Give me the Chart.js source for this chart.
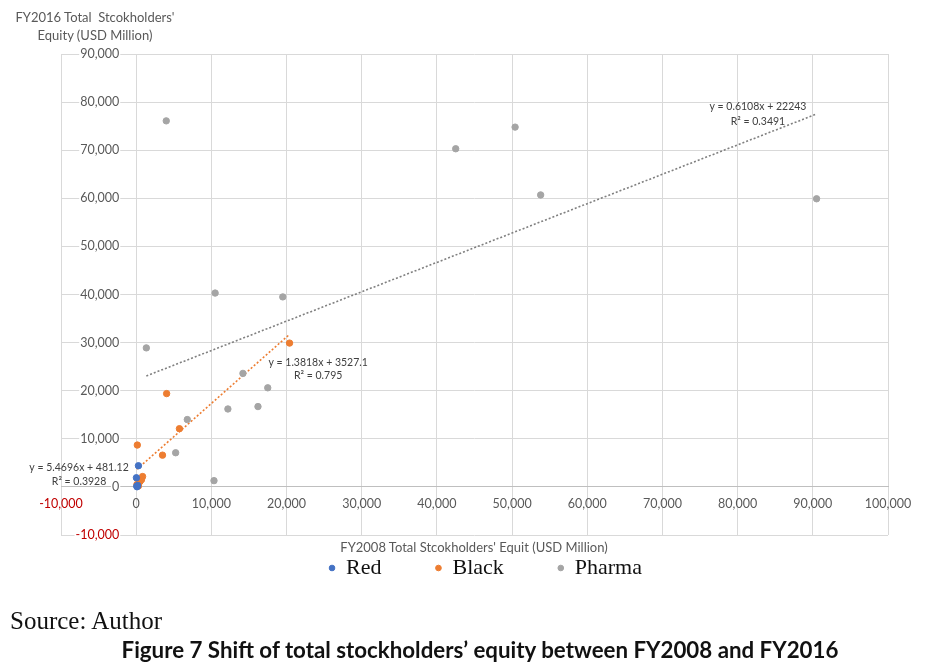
<!DOCTYPE html>
<html>
<head>
<meta charset="utf-8">
<script src="https://cdn.jsdelivr.net/npm/chart.js@4/dist/chart.umd.min.js"></script>
<style>
  html, body { margin: 0; padding: 0; background: #fff; }
  #wrap { position: relative; width: 929px; height: 672px; overflow: hidden; }
  #c { position: absolute; left: 0; top: 0; }
  .t { position: absolute; white-space: pre; }
  #ytitle { left: 95px; top: 8px; transform: translateX(-50%); text-align: center; font: 13px Lato, sans-serif; color: #595959; line-height: 18px; }
  #xtitle { left: 474px; top: 539px; transform: translateX(-50%); font: 13px Lato, sans-serif; color: #595959; }
  #source { left: 10px; top: 607px; font: 25px 'Liberation Serif', serif; color: #111; }
  #caption { left: 480px; top: 636px; transform: translateX(-50%); font: bold 22.3px Lato, sans-serif; color: #111; }
</style>
</head>
<body>
<div id="wrap">
  <canvas id="c" width="929" height="672"></canvas>
  <div class="t" id="ytitle">FY2016 Total  Stcokholders'
Equity (USD Million)</div>
  <div class="t" id="xtitle">FY2008 Total Stcokholders' Equit (USD Million)</div>
  <div class="t" id="source">Source: Author</div>
  <div class="t" id="caption">Figure 7 Shift of total stockholders’ equity between FY2008 and FY2016</div>
</div>
<script>
// ---------- data (USD million) ----------
const seriesNames = ['Red', 'Black', 'Pharma'];

const redX = [300, 30, 80, 200, 120];
const redY = [4400, 1900, 150, 300, 30];

const blackX = [20400, 4050, 5750, 150, 3500, 850, 500, 700, 100, 300];
const blackY = [29900, 19400, 12100, 8700, 6600, 2150, 1100, 1500, 500, 200];

const pharmaX = [4000, 10500, 19500, 1350, 42500, 50400, 53800, 90500, 14200, 17500, 16200, 12200, 6800, 5250, 10350];
const pharmaY = [76100, 40300, 39500, 28900, 70300, 74800, 60700, 59900, 23600, 20600, 16700, 16200, 14000, 7100, 1300];

// linear trendline end points (consistent with the shown equations)
const redTrendX = [30, 300];
const redTrendY = [645, 2122];
const blackTrendX = [100, 20400];
const blackTrendY = [3665, 31716];
const pharmaTrendX = [1350, 90500];
const pharmaTrendY = [23068, 77520];

// trendline equation labels
const redTrendText = ['y = 5.4696x + 481.12', 'R² = 0.3928'];
const blackTrendText = ['y = 1.3818x + 3527.1', 'R² = 0.795'];
const pharmaTrendText = ['y = 0.6108x + 22243', 'R² = 0.3491'];

// axis tick values
const xTickValues = [-10000, 0, 10000, 20000, 30000, 40000, 50000, 60000, 70000, 80000, 90000, 100000];
const yTickValues = [-10000, 0, 10000, 20000, 30000, 40000, 50000, 60000, 70000, 80000, 90000];

// ---------- styling ----------
const COLORS = { red: '#4472C4', black: '#ED7D31', pharma: '#A5A5A5', pharmaTrend: '#808080' };
const TICK_COLOR = '#595959';
const NEG_COLOR = '#C00000';
const GRID_COLOR = '#D9D9D9';
const FONT = 'Lato, sans-serif';

const toPts = (xs, ys) => xs.map((x, i) => ({ x: x, y: ys[i] }));
const fmt = v => Number(v).toLocaleString('en-US');

// label anchors (data coordinates of the first text line centre) and line gaps
const trendLabelPlacement = [
  { text: pharmaTrendText, x: 82700, y: 79000, gap: 15 },
  { text: blackTrendText, x: 24200, y: 25800, gap: 13 },
  { text: redTrendText, x: -7600, y: 3950, gap: 14 }
];

const trendLabelPlugin = {
  id: 'trendLabels',
  afterDatasetsDraw(chart) {
    const { ctx, scales: { x, y } } = chart;
    ctx.save();
    ctx.font = '10.5px ' + FONT;
    ctx.fillStyle = '#404040';
    ctx.textAlign = 'center';
    ctx.textBaseline = 'middle';
    trendLabelPlacement.forEach(l => {
      const px = x.getPixelForValue(l.x);
      const py = y.getPixelForValue(l.y);
      l.text.forEach((t, i) => ctx.fillText(t, px, py + i * l.gap));
    });
    ctx.restore();
  }
};

// legend spacing: keep wide horizontal gaps while sitting close under the plot
const LEGEND_PAD = 54;
const legendPlace = {
  id: 'legendPlace',
  afterLayout(chart) {
    const lg = chart.legend;
    if (!lg) return;
    const dy = -(LEGEND_PAD - 22), dx = 11;
    lg.top += dy; lg.bottom += dy; lg.left += dx; lg.right += dx;
  }
};

const scatterSet = (label, xs, ys, color) => ({
  type: 'scatter', label: label, data: toPts(xs, ys),
  backgroundColor: color, borderColor: color, borderWidth: 1,
  pointRadius: 3.2, pointHoverRadius: 3.2, order: 1
});
const trendSet = (xs, ys, color) => ({
  type: 'line', label: '_trend', data: toPts(xs, ys),
  borderColor: color, borderWidth: 1.6, borderDash: [2, 2],
  pointRadius: 0, fill: false, tension: 0, order: 2
});

new Chart(document.getElementById('c'), {
  data: {
    datasets: [
      scatterSet(seriesNames[0], redX, redY, COLORS.red),
      scatterSet(seriesNames[1], blackX, blackY, COLORS.black),
      scatterSet(seriesNames[2], pharmaX, pharmaY, COLORS.pharma),
      trendSet(redTrendX, redTrendY, COLORS.red),
      trendSet(blackTrendX, blackTrendY, COLORS.black),
      trendSet(pharmaTrendX, pharmaTrendY, COLORS.pharmaTrend)
    ]
  },
  options: {
    responsive: false,
    animation: false,
    devicePixelRatio: 1,
    layout: { padding: { left: 61, top: 54, right: 41, bottom: 51 } },
    scales: {
      x: {
        type: 'linear',
        min: -10000, max: 100000,
        position: { y: 0 },
        afterFit: s => { s.height = 0; },
        afterBuildTicks: s => { s.ticks = xTickValues.map(v => ({ value: v })); },
        grid: { color: GRID_COLOR, lineWidth: 1, drawTicks: false },
        border: { display: true, color: '#BFBFBF', width: 1 },
        ticks: {
          padding: 10,
          font: { family: FONT, size: 12.5 },
          color: c => (c.tick && c.tick.value < 0 ? NEG_COLOR : TICK_COLOR),
          callback: v => fmt(v),
          maxRotation: 0, autoSkip: false
        }
      },
      y: {
        type: 'linear',
        min: -10000, max: 90000,
        position: { x: -2250 },
        afterFit: s => { s.width = 0; },
        afterBuildTicks: s => { s.ticks = yTickValues.map(v => ({ value: v })); },
        grid: { color: GRID_COLOR, lineWidth: 1, drawTicks: false },
        border: { display: false },
        ticks: {
          padding: 0,
          font: { family: FONT, size: 12.5 },
          color: c => (c.tick && c.tick.value < 0 ? NEG_COLOR : TICK_COLOR),
          callback: v => fmt(v),
          autoSkip: false,
          showLabelBackdrop: true,
          backdropColor: '#FFFFFF',
          backdropPadding: { x: 1, y: 0 }
        }
      }
    },
    plugins: {
      legend: {
        position: 'bottom',
        labels: {
          usePointStyle: true,
          pointStyle: 'circle',
          boxWidth: 6, boxHeight: 4,
          padding: LEGEND_PAD,
          color: '#111',
          font: { family: "'Liberation Serif', serif", size: 22 },
          filter: item => item.text !== '_trend'
        }
      },
      tooltip: { enabled: false },
      title: { display: false }
    }
  },
  plugins: [trendLabelPlugin, legendPlace]
});
</script>
</body>
</html>
